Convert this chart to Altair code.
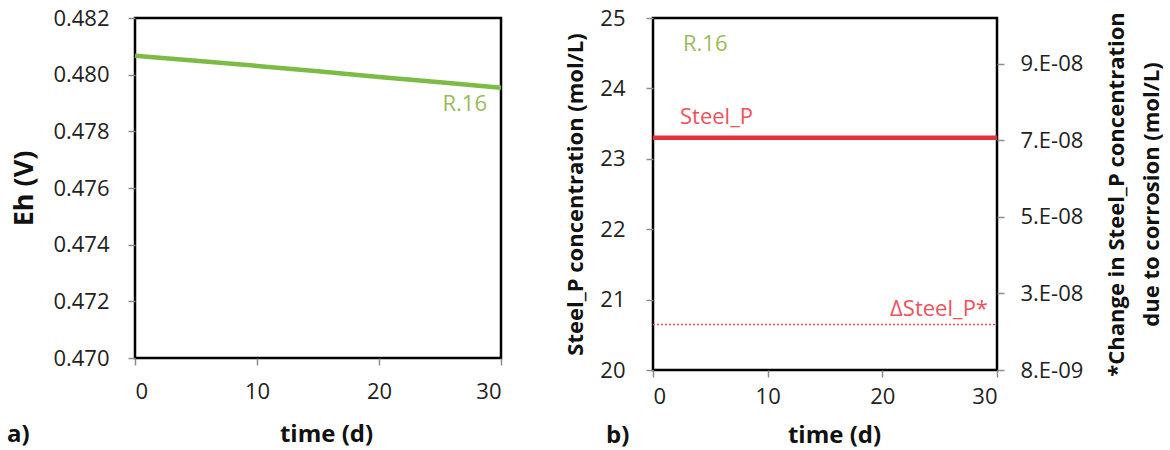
import altair as alt
import pandas as pd

# ---------------- data ----------------
time_d = [0, 5, 10, 15, 20, 25, 30]
eh_v = [0.48067, 0.48049, 0.48031, 0.48012, 0.47992, 0.47973, 0.47954]
steel_p = [23.30, 23.30, 23.30, 23.30, 23.30, 23.30, 23.30]
delta_steel_p = [2.04e-8, 2.04e-8, 2.04e-8, 2.04e-8, 2.04e-8, 2.04e-8, 2.04e-8]

time_ticks = [0, 10, 20, 30]
eh_ticks = [0.470, 0.472, 0.474, 0.476, 0.478, 0.480, 0.482]
steel_ticks = [20, 21, 22, 23, 24, 25]
delta_ticks = [8.5e-9, 2.85e-8, 4.85e-8, 6.85e-8, 8.85e-8]
delta_tick_labels = ["8.E-09", "3.E-08", "5.E-08", "7.E-08", "9.E-08"]

eh_domain = [0.470, 0.482]
steel_domain = [20, 25]
delta_domain = [8.5e-9, 1.005e-7]

title_time = "time (d)"
title_eh = "Eh (V)"
title_steel = "Steel_P concentration (mol/L)"
title_delta = ["*Change in Steel_P concentration", "due to corrosion (mol/L)"]
label_r16 = "R.16"
label_steel = "Steel_P"
label_delta = "\u0394Steel_P*"
tag_a = "a)"
tag_b = "b)"

# ---------------- style ----------------
FONT = "Open Sans"
GREEN = "#7CBB45"
GREEN_TXT = "#9BBB59"
RED = "#E8303C"
RED_TXT = "#F0505A"
W1, H1 = 366, 340
W2, H2 = 344, 352

# labelExpr for the secondary axis, built from the tick lists
parts = []
for i in range(len(delta_ticks) - 1):
    mid = (delta_ticks[i] + delta_ticks[i + 1]) / 2
    parts.append(f"datum.value < {mid!r} ? '{delta_tick_labels[i]}' : ")
delta_expr = "".join(parts) + f"'{delta_tick_labels[-1]}'"

# ---------------- panel a ----------------
df_a = pd.DataFrame({"time": time_d, "eh": eh_v})

xa = alt.X(
    "time:Q",
    scale=alt.Scale(domain=[0, 30], nice=False, zero=False),
    axis=alt.Axis(values=time_ticks, format="d", title=title_time,
                  labelPadding=16, titlePadding=20, titleX=W1 / 2 + 8),
)
ya = alt.Y(
    "eh:Q",
    scale=alt.Scale(domain=eh_domain, nice=False, zero=False),
    axis=alt.Axis(values=eh_ticks, format=".3f", title=title_eh,
                  labelPadding=19, titlePadding=14, titleFontSize=27),
)

line_a = alt.Chart(df_a).mark_line(color=GREEN, strokeWidth=4.5).encode(x=xa, y=ya)

txt_a = alt.Chart(pd.DataFrame({"t": [label_r16]})).mark_text(
    align="right", baseline="middle", font=FONT, fontSize=22, color=GREEN_TXT
).encode(x=alt.value(352), y=alt.value(86), text="t:N")

tag_a_mark = alt.Chart(pd.DataFrame({"t": [tag_a]})).mark_text(
    align="left", baseline="middle", font=FONT, fontSize=24, fontWeight="bold", color="#111"
).encode(x=alt.value(-128), y=alt.value(H1 + 77), text="t:N")

panel_a = alt.layer(line_a, txt_a, tag_a_mark).properties(width=W1, height=H1)

# ---------------- panel b ----------------
df_b = pd.DataFrame({"time": time_d, "steel": steel_p, "delta": delta_steel_p})

xb = alt.X(
    "time:Q",
    scale=alt.Scale(domain=[0, 30], nice=False, zero=False),
    axis=alt.Axis(values=time_ticks, format="d", title=title_time,
                  labelPadding=9, titlePadding=16, titleX=W2 / 2 + 9),
)

steel_line = alt.Chart(df_b).mark_line(color=RED, strokeWidth=4.5).encode(
    x=xb,
    y=alt.Y("steel:Q", scale=alt.Scale(domain=steel_domain, nice=False, zero=False),
            axis=alt.Axis(orient="left", values=steel_ticks, format="d", title=title_steel,
                          labelPadding=21, titlePadding=12, titleFontSize=22)),
)

delta_line = alt.Chart(df_b).mark_line(color=RED_TXT, strokeWidth=1.5, strokeDash=[2, 2]).encode(
    x=xb,
    y=alt.Y("delta:Q", scale=alt.Scale(domain=delta_domain, nice=False, zero=False),
            axis=alt.Axis(orient="right", values=delta_ticks, labelExpr=delta_expr,
                          title=title_delta, titleAngle=270, titleBaseline="top",
                          titleLineHeight=35,
                          labelPadding=16, titlePadding=-11, titleFontSize=22)),
)

txt_b = alt.Chart(pd.DataFrame({"t": [label_r16]})).mark_text(
    align="left", baseline="middle", font=FONT, fontSize=22, color=GREEN_TXT
).encode(x=alt.value(30), y=alt.value(26), text="t:N")

txt_steel = alt.Chart(pd.DataFrame({"t": [label_steel]})).mark_text(
    align="left", baseline="middle", font=FONT, fontSize=22, color=RED_TXT
).encode(x=alt.value(27), y=alt.value(99), text="t:N")

txt_delta = alt.Chart(pd.DataFrame({"t": [label_delta]})).mark_text(
    align="right", baseline="middle", font=FONT, fontSize=22, color=RED_TXT
).encode(x=alt.value(335), y=alt.value(291), text="t:N")

tag_b_mark = alt.Chart(pd.DataFrame({"t": [tag_b]})).mark_text(
    align="left", baseline="middle", font=FONT, fontSize=24, fontWeight="bold", color="#111"
).encode(x=alt.value(-47), y=alt.value(H2 + 66), text="t:N")

panel_b = (
    alt.layer(steel_line, delta_line, txt_b, txt_steel, txt_delta, tag_b_mark)
    .resolve_scale(y="independent")
    .properties(width=W2, height=H2)
)

chart = (
    alt.hconcat(panel_a, panel_b, spacing=51)
    .properties(padding={"left": 5, "top": 5, "right": 2, "bottom": 0})
    .configure_view(stroke="black", strokeWidth=2.5)
    .configure_axis(
        grid=False, domain=False,
        tickColor="#8c8c8c", tickSize=7, tickWidth=1.5,
        labelFont=FONT, labelFontSize=22, labelColor="#222",
        titleFont=FONT, titleFontWeight="bold", titleColor="#111", titleFontSize=24,
    )
)

chart.save("out.html", embed_options={"renderer": "svg", "actions": False})
